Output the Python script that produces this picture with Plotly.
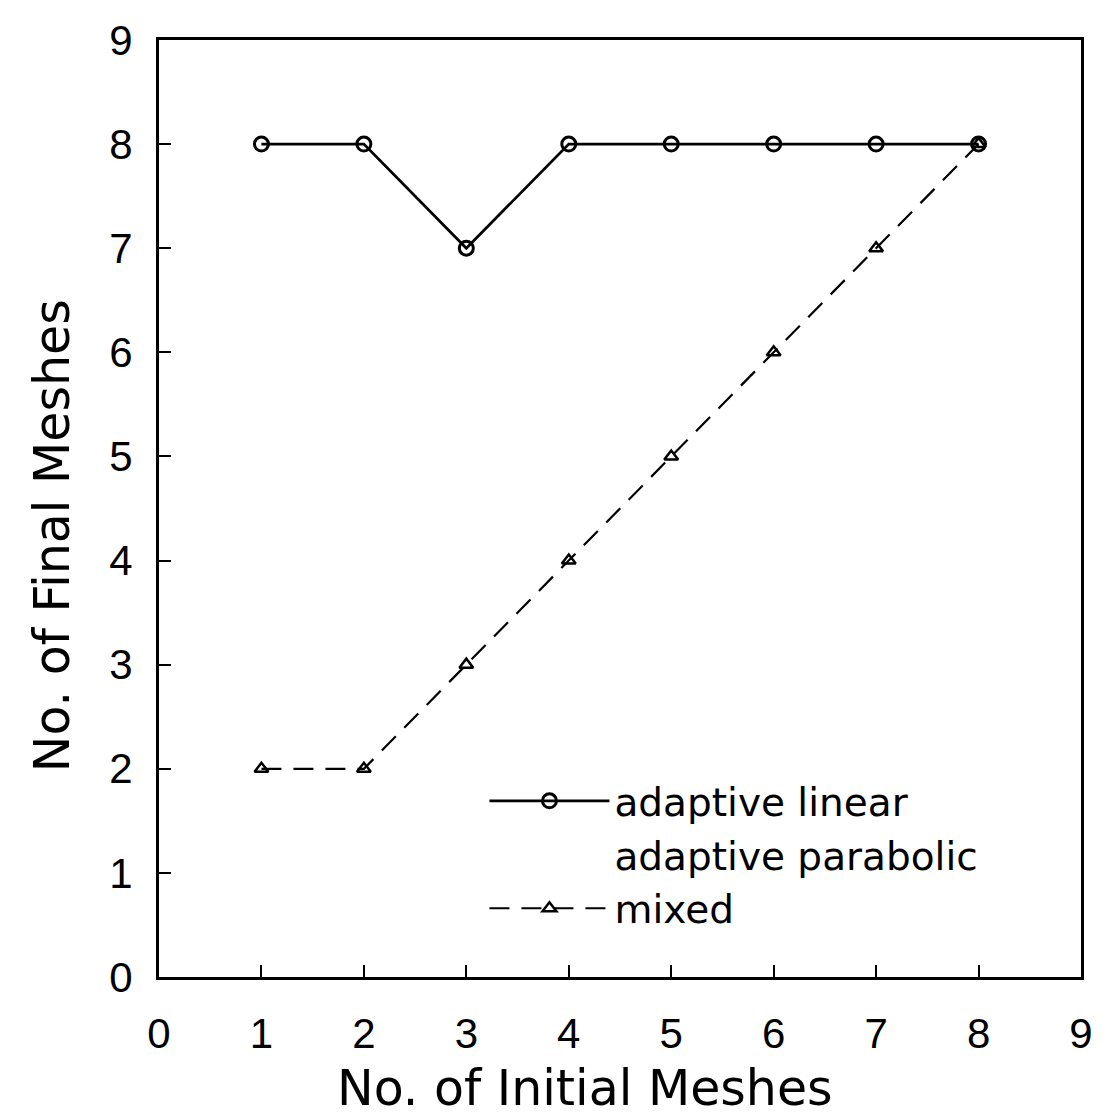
import plotly.graph_objects as go

initial_meshes = [1, 2, 3, 4, 5, 6, 7, 8]
adaptive_linear = [8, 8, 7, 8, 8, 8, 8, 8]
mixed = [2, 2, 3, 4, 5, 6, 7, 8]
tick_vals = [0, 1, 2, 3, 4, 5, 6, 7, 8, 9]
x_title = "No. of Initial Meshes"
y_title = "No. of Final Meshes"

TEXT_FONT = "DejaVu Sans"
TICK_FONT = "Liberation Sans"

fig = go.Figure()
fig.add_trace(go.Scatter(
    x=initial_meshes, y=adaptive_linear, name="adaptive linear",
    mode="lines+markers",
    line=dict(color="black", width=2.8),
    marker=dict(symbol="circle-open", size=14, color="black", line=dict(width=3)),
))
fig.add_trace(go.Scatter(
    x=[None], y=[None], name="adaptive parabolic",
    mode="lines", line=dict(color="rgba(0,0,0,0)", width=0),
))
fig.add_trace(go.Scatter(
    x=initial_meshes, y=mixed, name="mixed",
    mode="lines+markers",
    line=dict(color="black", width=2.2, dash="20px,12px"),
    marker=dict(symbol="triangle-up-open", size=12, color="black", line=dict(width=2.5)),
))

axis_common = dict(
    range=[0, 9], tickvals=tick_vals, ticks="inside", ticklen=12, tickwidth=2,
    tickcolor="black", showline=True, linecolor="black", linewidth=3, mirror=True,
    showgrid=False, zeroline=False, automargin=False,
    tickfont=dict(family=TICK_FONT, size=42, color="black"),
)

fig.update_layout(
    width=1101, height=1110,
    margin=dict(l=151, r=28, t=32, b=141),
    paper_bgcolor="white", plot_bgcolor="white",
    showlegend=True,
    legend=dict(
        x=0.353, y=0.222, xanchor="left", yanchor="top",
        bgcolor="rgba(0,0,0,0)", itemwidth=120, tracegroupgap=0,
        font=dict(family=TEXT_FONT, size=39, color="black"),
    ),
    xaxis=dict(**axis_common, ticklabelstandoff=18),
    yaxis=dict(**axis_common, ticklabelstandoff=15),
    annotations=[
        dict(text=x_title, xref="paper", yref="paper", x=0.462, y=-0.119,
             xanchor="center", yanchor="middle", showarrow=False,
             font=dict(family=TEXT_FONT, size=49, color="black")),
        dict(text=y_title, xref="paper", yref="paper", x=-0.1147, y=0.4707,
             xanchor="center", yanchor="middle", showarrow=False, textangle=-90,
             font=dict(family=TEXT_FONT, size=49, color="black")),
    ],
)

fig.write_html("out.html")
